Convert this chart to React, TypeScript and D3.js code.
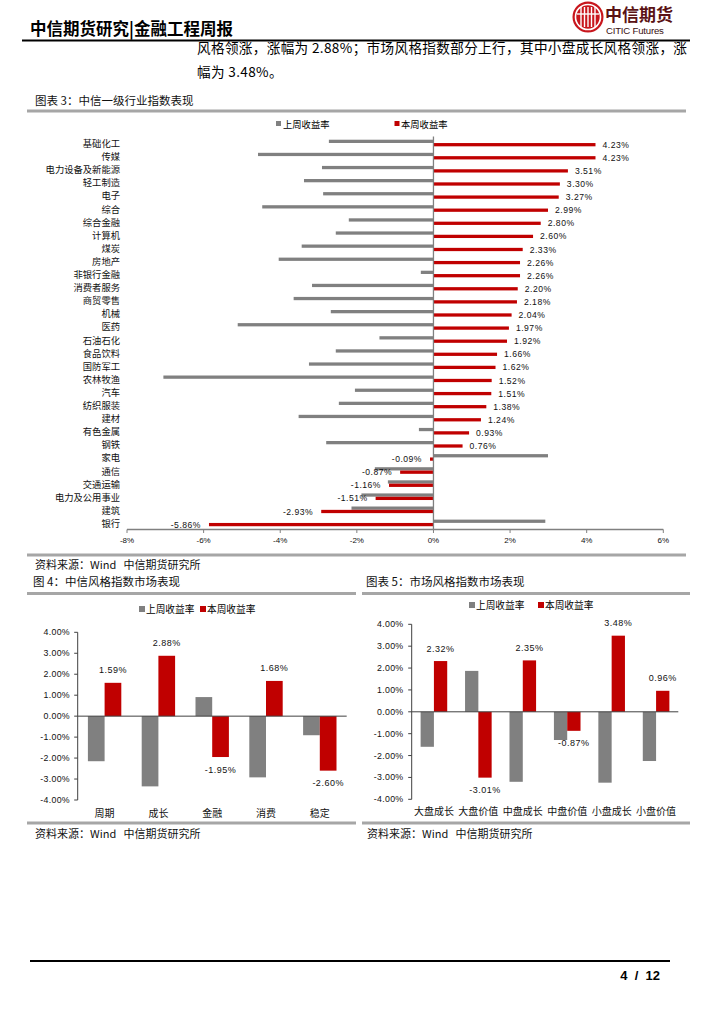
import React from "react";
import * as d3 from "d3";

// ---------- data ----------
const industries = [
  "基础化工", "传媒", "电力设备及新能源", "轻工制造", "电子", "综合", "综合金融", "计算机",
  "煤炭", "房地产", "非银行金融", "消费者服务", "商贸零售", "机械", "医药", "石油石化",
  "食品饮料", "国防军工", "农林牧渔", "汽车", "纺织服装", "建材", "有色金属", "钢铁",
  "家电", "通信", "交通运输", "电力及公用事业", "建筑", "银行",
];
const industryLastWeek = [
  -2.73, -4.58, -2.91, -3.38, -2.88, -4.47, -2.21, -2.55, -3.44, -4.04, -0.33, -3.17, -3.65, -2.68, -5.11,
  -1.41, -2.55, -3.25, -7.05, -2.05, -2.47, -3.52, -0.38, -2.8, 2.99, -1.53, -1.19, -1.88, -2.14, 2.92,
];
const industryThisWeek = [
  4.23, 4.23, 3.51, 3.3, 3.27, 2.99, 2.8, 2.6, 2.33, 2.26, 2.26, 2.2, 2.18, 2.04, 1.97,
  1.92, 1.66, 1.62, 1.52, 1.51, 1.38, 1.24, 0.93, 0.76, -0.09, -0.87, -1.16, -1.51, -2.93, -5.86,
];
const industryTicks = [-8, -6, -4, -2, 0, 2, 4, 6];

const styles = ["周期", "成长", "金融", "消费", "稳定"];
const styleLastWeek = [-2.15, -3.35, 0.91, -2.92, -0.91];
const styleThisWeek = [1.59, 2.88, -1.95, 1.68, -2.6];

const markets = ["大盘成长", "大盘价值", "中盘成长", "中盘价值", "小盘成长", "小盘价值"];
const marketLastWeek = [-1.6, 1.87, -3.2, -1.29, -3.24, -2.25];
const marketThisWeek = [2.32, -3.01, 2.35, -0.87, 3.48, 0.96];

const pctTicks = [4, 3, 2, 1, 0, -1, -2, -3, -4];
const seriesNames = ["上周收益率", "本周收益率"];

// ---------- style ----------
const GRAY = "#808080";
const RED = "#c00000";
const RULE = "#a6a6a6";
const CJK = "'Noto Sans CJK SC', 'Noto Sans', sans-serif";
const NUM = "'Liberation Sans', Arial, sans-serif";

function IndustryChart() {
  const x = d3.scaleLinear().domain([-8, 6]).range([127, 663.3]);
  const y = d3.scaleBand<string>().domain(industries).range([136.5, 529.5]);
  const bw = y.bandwidth();
  const x0 = x(0);
  const axisY = 529.5;
  return (
    <g>
      {/* legend */}
      <rect x={276} y={121} width={5} height={5} fill={GRAY} />
      <text x={283} y={123.8} fontSize={9.3} fontFamily={CJK} dominantBaseline="central">{seriesNames[0]}</text>
      <rect x={394.5} y={121} width={5} height={5} fill={RED} />
      <text x={401} y={123.8} fontSize={9.3} fontFamily={CJK} dominantBaseline="central">{seriesNames[1]}</text>

      {industries.map((c, i) => {
        const y0 = y(c)!;
        const lw = industryLastWeek[i];
        const tw = industryThisWeek[i];
        return (
          <g key={c}>
            <rect x={Math.min(x(lw), x0)} y={y0 + bw * 0.245} width={Math.abs(x(lw) - x0)} height={bw * 0.25} fill={GRAY} />
            <rect x={Math.min(x(tw), x0)} y={y0 + bw * 0.5} width={Math.abs(x(tw) - x0)} height={bw * 0.25} fill={RED} />
            <text x={120} y={y0 + bw * 0.5} fontSize={9.3} fontFamily={CJK} textAnchor="end" dominantBaseline="central" fill="#111">{c}</text>
            <text
              x={tw >= 0 ? x(tw) + 7 : x(tw) - 8}
              y={y0 + bw * 0.63}
              fontSize={8.6}
              fontFamily={NUM}
              letterSpacing={0.5}
              textAnchor={tw >= 0 ? "start" : "end"}
              dominantBaseline="central"
              fill="#111"
            >
              {tw.toFixed(2) + "%"}
            </text>
          </g>
        );
      })}
      {/* zero line */}
      <line x1={x0} x2={x0} y1={136.5} y2={axisY} stroke={GRAY} strokeWidth={1.3} />
      {/* x axis */}
      <line x1={x(-8)} x2={x(6)} y1={axisY} y2={axisY} stroke={GRAY} strokeWidth={1.3} />
      {industryTicks.map((t) => (
        <g key={t}>
          <line x1={x(t)} x2={x(t)} y1={axisY} y2={axisY + 3.5} stroke={GRAY} strokeWidth={1} />
          <text x={x(t)} y={540} fontSize={8} fontFamily={NUM} textAnchor="middle" dominantBaseline="central" fill="#111">
            {t + "%"}
          </text>
        </g>
      ))}
    </g>
  );
}

type SmallProps = {
  cats: string[];
  last: number[];
  cur: number[];
  x0: number;
  x1: number;
  yTop: number;
  yBot: number;
  barW: number;
  tickRight: number;
  catY: number;
  legendY: number;
  legendX: [number, number];
};

function StyleChart(p: SmallProps) {
  const x = d3.scaleBand<string>().domain(p.cats).range([p.x0, p.x1]);
  const y = d3.scaleLinear().domain([-4, 4]).range([p.yBot, p.yTop]);
  const zero = y(0);
  return (
    <g>
      <rect x={p.legendX[0]} y={p.legendY - 3} width={6} height={6} fill={GRAY} />
      <text x={p.legendX[0] + 7} y={p.legendY} fontSize={9.7} fontFamily={CJK} dominantBaseline="central">{seriesNames[0]}</text>
      <rect x={p.legendX[1]} y={p.legendY - 3} width={6} height={6} fill={RED} />
      <text x={p.legendX[1] + 7} y={p.legendY} fontSize={9.7} fontFamily={CJK} dominantBaseline="central">{seriesNames[1]}</text>

      {p.cats.map((c, i) => {
        const cx = x(c)! + x.bandwidth() / 2;
        const lw = p.last[i];
        const tw = p.cur[i];
        return (
          <g key={c}>
            <rect x={cx - p.barW} y={Math.min(y(lw), zero)} width={p.barW} height={Math.abs(y(lw) - zero)} fill={GRAY} />
            <rect x={cx} y={Math.min(y(tw), zero)} width={p.barW} height={Math.abs(y(tw) - zero)} fill={RED} />
            <text
              x={cx + p.barW / 2}
              y={tw >= 0 ? y(tw) - 12.5 : y(tw) + 12.5}
              fontSize={9}
              fontFamily={NUM}
              letterSpacing={0.5}
              textAnchor="middle"
              dominantBaseline="central"
              fill="#111"
            >
              {tw.toFixed(2) + "%"}
            </text>
            <text x={cx} y={p.catY} fontSize={10} fontFamily={CJK} textAnchor="middle" dominantBaseline="central" fill="#111">
              {c}
            </text>
          </g>
        );
      })}
      <line x1={p.x0} x2={p.x0} y1={p.yTop} y2={p.yBot} stroke="#404040" strokeWidth={1} />
      {pctTicks.map((t) => (
        <g key={t}>
          <line x1={p.x0 - 3.5} x2={p.x0} y1={y(t)} y2={y(t)} stroke="#404040" strokeWidth={1} />
          <text x={p.tickRight} y={y(t)} fontSize={8.8} fontFamily={NUM} letterSpacing={0.3} textAnchor="end" dominantBaseline="central" fill="#111">
            {t.toFixed(2) + "%"}
          </text>
        </g>
      ))}
      <line x1={p.x0} x2={p.x1} y1={zero} y2={zero} stroke="#404040" strokeWidth={1} />
    </g>
  );
}

function Logo() {
  return (
    <g>
      <circle cx={588} cy={17} r={15.5} fill="#c8161d" />
      <circle cx={588} cy={17} r={12.5} fill="none" stroke="#fff" strokeWidth={1.6} />
      {[-7, -3.5, 0, 3.5, 7].map((d) => (
        <line key={d} x1={588 + d} x2={588 + d} y1={7} y2={27} stroke="#fff" strokeWidth={1.4} />
      ))}
      <line x1={577} x2={599} y1={14} y2={14} stroke="#fff" strokeWidth={1.4} />
      <text x={605} y={21} fontSize={17} fontWeight={700} fontFamily={CJK} fill="#5a1214">中信期货</text>
      <text x={606} y={34} fontSize={9.6} fontFamily={NUM} fill="#3a1010" letterSpacing={-0.2}>CITIC Futures</text>
    </g>
  );
}

const srcStyle = { whiteSpace: "pre" as const };

export default function App() {
  return (
    <svg
      width={712}
      height={1027}
      viewBox="0 0 712 1027"
      style={{ position: "absolute", left: 0, top: 0, background: "#fff" }}
    >
      <rect width={712} height={1027} fill="#fff" />
      {/* header */}
      <text x={30} y={35} fontSize={16.5} fontWeight={700} fontFamily={CJK} fill="#000">中信期货研究|金融工程周报</text>
      <Logo />
      <line x1={22} x2={690} y1={40.5} y2={40.5} stroke="#000" strokeWidth={2} />
      <text x={197} y={53} fontSize={13.6} fontFamily={CJK} fill="#000" letterSpacing={0.35}>
        风格领涨，涨幅为 2.88%；市场风格指数部分上行，其中小盘成长风格领涨，涨
      </text>
      <text x={197} y={77} fontSize={13.6} fontFamily={CJK} fill="#000" letterSpacing={0.35}>幅为 3.48%。</text>

      {/* chart 3 */}
      <text x={35} y={100} fontSize={11.5} fontFamily={CJK} fill="#111" dominantBaseline="central">图表 3：中信一级行业指数表现</text>
      <line x1={27} x2={686} y1={111} y2={111} stroke={RULE} strokeWidth={3} />
      <IndustryChart />
      <line x1={27} x2={686} y1={555} y2={555} stroke={RULE} strokeWidth={3} />
      <text x={35} y={564} fontSize={11} fontFamily={CJK} fill="#111" dominantBaseline="central" style={srcStyle}>资料来源：Wind   中信期货研究所</text>

      {/* chart 4 */}
      <text x={33} y={581} fontSize={11.5} fontFamily={CJK} fill="#111" dominantBaseline="central">图 4：中信风格指数市场表现</text>
      <line x1={27} x2={356} y1={593.5} y2={593.5} stroke={RULE} strokeWidth={3} />
      <StyleChart
        cats={styles}
        last={styleLastWeek}
        cur={styleThisWeek}
        x0={77.7}
        x1={346.7}
        yTop={632.3}
        yBot={800}
        barW={16.7}
        tickRight={70}
        catY={812}
        legendY={609}
        legendX={[139, 200]}
      />
      <line x1={27} x2={356} y1={823} y2={823} stroke={RULE} strokeWidth={3} />
      <text x={35} y={833} fontSize={11} fontFamily={CJK} fill="#111" dominantBaseline="central" style={srcStyle}>资料来源：Wind   中信期货研究所</text>

      {/* chart 5 */}
      <text x={366} y={581} fontSize={11.5} fontFamily={CJK} fill="#111" dominantBaseline="central">图表 5：市场风格指数市场表现</text>
      <line x1={362} x2={690} y1={593.5} y2={593.5} stroke={RULE} strokeWidth={3} />
      <StyleChart
        cats={markets}
        last={marketLastWeek}
        cur={marketThisWeek}
        x0={411.7}
        x1={678.3}
        yTop={624.3}
        yBot={799.3}
        barW={13.3}
        tickRight={403.5}
        catY={810.5}
        legendY={605}
        legendX={[469, 538]}
      />
      <line x1={362} x2={690} y1={823} y2={823} stroke={RULE} strokeWidth={3} />
      <text x={367} y={833} fontSize={11} fontFamily={CJK} fill="#111" dominantBaseline="central" style={srcStyle}>资料来源：Wind   中信期货研究所</text>

      {/* footer */}
      <line x1={30} x2={670} y1={961} y2={961} stroke="#000" strokeWidth={2} />
      <text x={660} y={980} fontSize={13} fontWeight={700} fontFamily={NUM} textAnchor="end" fill="#000" style={srcStyle}>4  /  12</text>
    </svg>
  );
}
